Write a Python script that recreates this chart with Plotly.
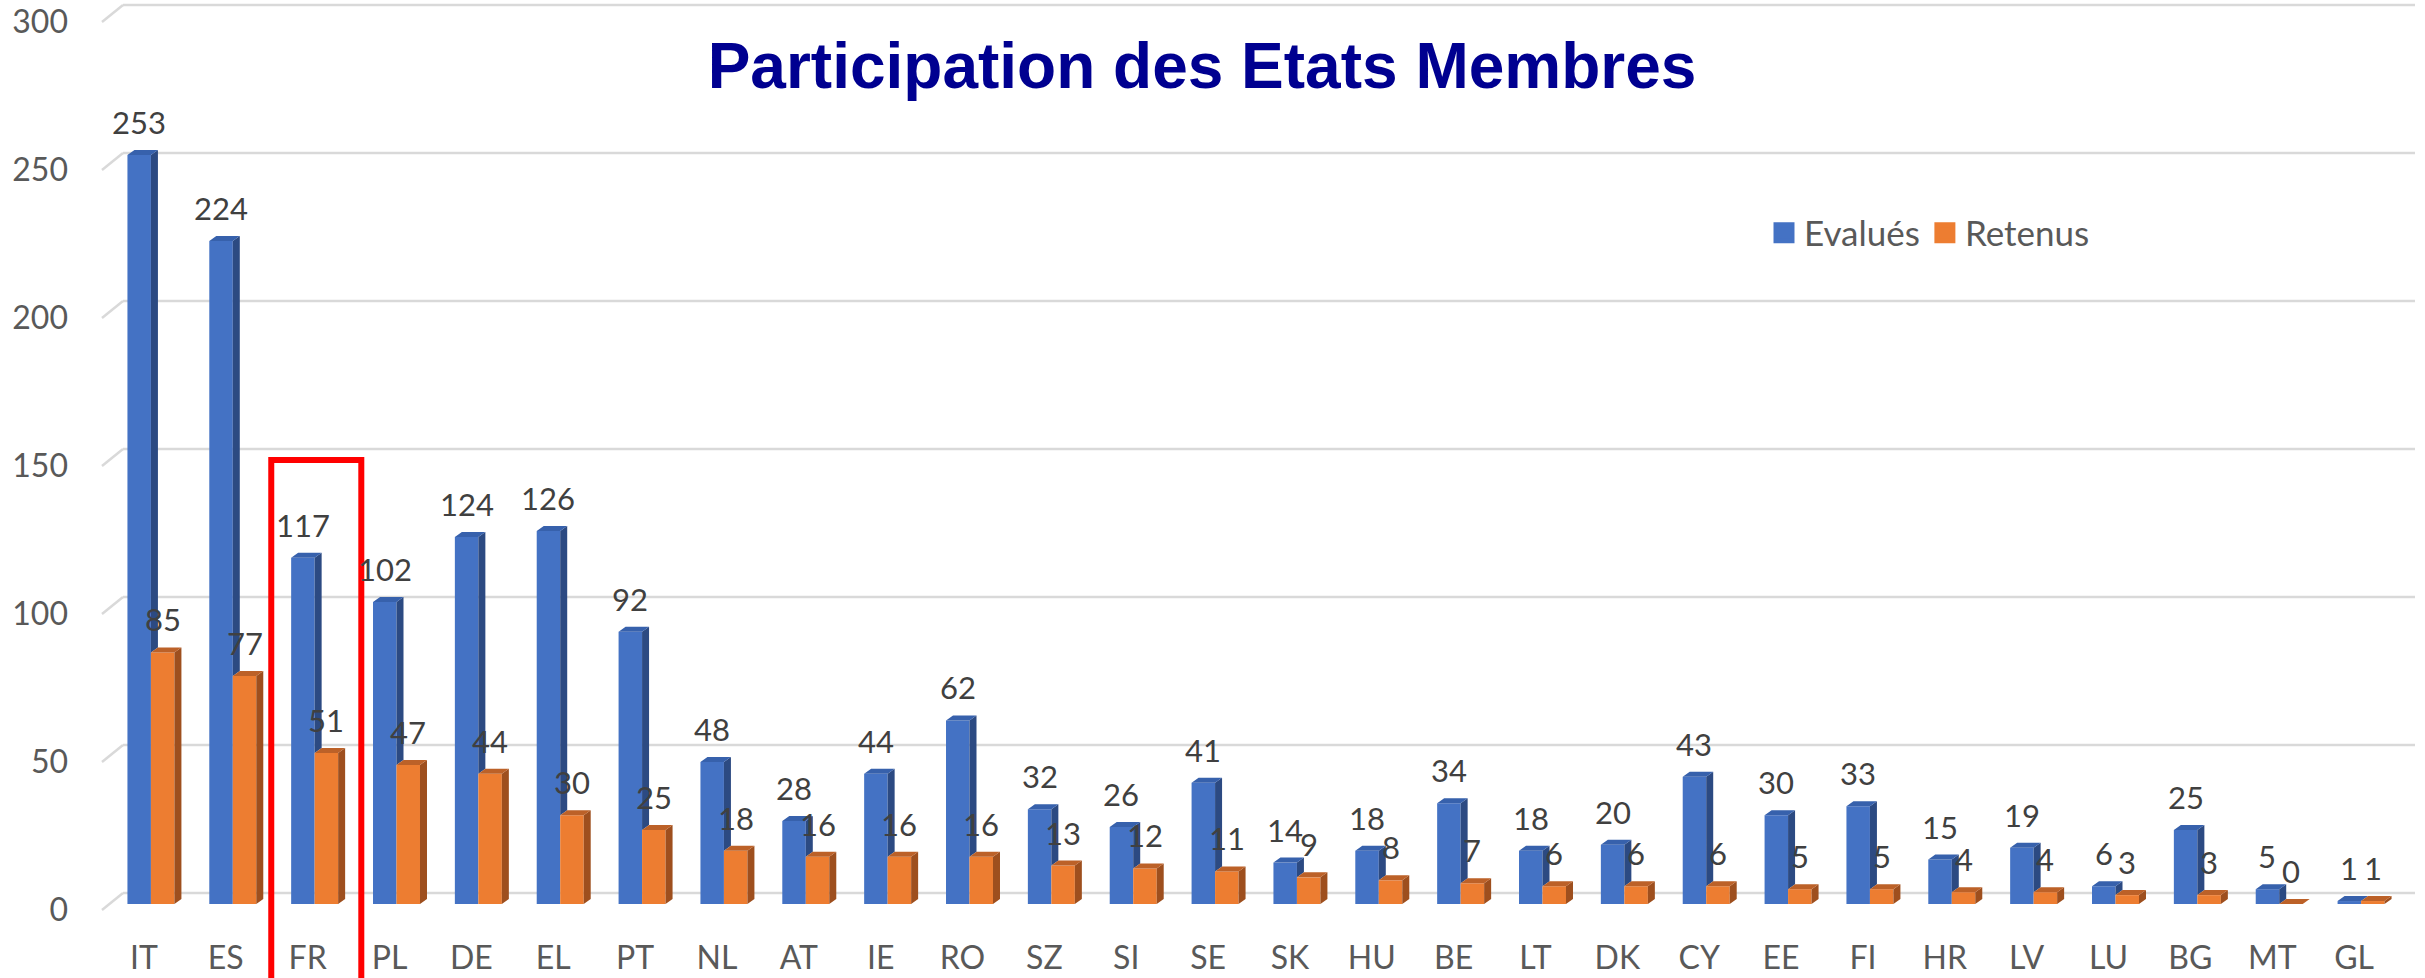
import plotly.graph_objects as go

# ---------------- data ----------------
categories = ["IT", "ES", "FR", "PL", "DE", "EL", "PT", "NL", "AT", "IE", "RO", "SZ", "SI", "SE",
              "SK", "HU", "BE", "LT", "DK", "CY", "EE", "FI", "HR", "LV", "LU", "BG", "MT", "GL"]
evalues = [253, 224, 117, 102, 124, 126, 92, 48, 28, 44, 62, 32, 26, 41,
           14, 18, 34, 18, 20, 43, 30, 33, 15, 19, 6, 25, 5, 1]
retenus = [85, 77, 51, 47, 44, 30, 25, 18, 16, 16, 16, 13, 12, 11,
           9, 8, 7, 6, 6, 6, 5, 5, 4, 4, 3, 3, 0, 1]
y_ticks = [0, 50, 100, 150, 200, 250, 300]
series_names = ["Evalués", "Retenus"]
highlight = "FR"
title_text = "Participation des Etats Membres"

# ---------------- styling / geometry ----------------
W, H = 2425, 978
ML, MR, MT, MB = 110, 23, 0, 53
PLOT_W = W - ML - MR
PLOT_H = H - MT - MB
N = len(categories)
CAT_PX = PLOT_W / N
ZERO_PX = 904 - MT          # pixel (from plot top) of value 0 on the bars' front plane
PX_PER_UNIT = 2.96
Y_RANGE = [-(PLOT_H - ZERO_PX) / PX_PER_UNIT, ZERO_PX / PX_PER_UNIT]

BAR_W = 0.287
DX = 7 / CAT_PX             # depth offset (category units)
DY = 5 / PX_PER_UNIT        # depth offset (value units)

BLUE, BLUE_SIDE, BLUE_TOP = "#4472C4", "#2C4A82", "#3761AC"
ORANGE, ORANGE_SIDE, ORANGE_TOP = "#ED7D31", "#9E4F1E", "#BC6128"
GRID = "#D9D9D9"
TICK_COL = "#595959"
LABEL_COL = "#404040"
FONT = "Lato"
FS = 32
FS_LAB = 31

xs = list(range(N))

fig = go.Figure()

# front faces (real bars)
fig.add_trace(go.Bar(x=xs, y=evalues, width=BAR_W, offset=-BAR_W, marker=dict(color=BLUE, line=dict(width=0)),
                     name=series_names[0], showlegend=False, hoverinfo="skip"))
fig.add_trace(go.Bar(x=xs, y=retenus, width=BAR_W, offset=0, marker=dict(color=ORANGE, line=dict(width=0)),
                     name=series_names[1], showlegend=False, hoverinfo="skip"))


def polys(quads):
    px, py = [], []
    for q in quads:
        for (a, b) in q:
            px.append(a)
            py.append(b)
        px.append(q[0][0]); py.append(q[0][1])
        px.append(None); py.append(None)
    return px, py


blue_side, blue_top, or_side, or_top = [], [], [], []
for i, (v, o) in enumerate(zip(evalues, retenus)):
    xr = i
    xl = i - BAR_W
    if v > o:
        blue_side.append([(xr, o), (xr, v), (xr + DX, v + DY), (xr + DX, o + DY)])
    blue_top.append([(xl, v), (xr, v), (xr + DX, v + DY), (xl + DX, v + DY)])
    oxl, oxr = i, i + BAR_W
    or_side.append([(oxr, 0), (oxr, o), (oxr + DX, o + DY), (oxr + DX, DY)])
    or_top.append([(oxl, o), (oxr, o), (oxr + DX, o + DY), (oxl + DX, o + DY)])

for quads, col in [(blue_side, BLUE_SIDE), (blue_top, BLUE_TOP), (or_side, ORANGE_SIDE), (or_top, ORANGE_TOP)]:
    px, py = polys(quads)
    fig.add_trace(go.Scatter(x=px, y=py, mode="lines", fill="toself", fillcolor=col,
                             line=dict(width=0, color=col), showlegend=False, hoverinfo="skip"))

# legend entries
for name, col in zip(series_names, [BLUE, ORANGE]):
    fig.add_trace(go.Scatter(x=[None], y=[None], mode="markers", name=name,
                             marker=dict(symbol="square", size=16, color=col, line=dict(width=5, color=col))))

# data labels
annotations = []
for i, (v, o) in enumerate(zip(evalues, retenus)):
    annotations.append(dict(x=i - BAR_W / 2, y=v, text=str(v), showarrow=False, xref="x", yref="y",
                            yanchor="bottom", yshift=12, font=dict(family=FONT, size=FS_LAB, color=LABEL_COL)))
    annotations.append(dict(x=i + BAR_W / 2, y=o, text=str(o), showarrow=False, xref="x", yref="y",
                            yanchor="bottom", yshift=12, font=dict(family=FONT, size=FS_LAB, color=LABEL_COL)))


def px_to_paper_x(pxv):
    return (pxv - ML) / PLOT_W


# grid lines on back wall with perspective stubs
shapes = []
BACK_UP = 11 / PX_PER_UNIT
FRONT_DOWN = 6 / PX_PER_UNIT
for t in y_ticks:
    shapes.append(dict(type="line", xref="paper", yref="y", x0=px_to_paper_x(123), x1=px_to_paper_x(2415),
                       y0=t + BACK_UP, y1=t + BACK_UP, line=dict(color=GRID, width=2.5), layer="below"))
    shapes.append(dict(type="line", xref="paper", yref="y", x0=px_to_paper_x(102), x1=px_to_paper_x(123),
                       y0=t - FRONT_DOWN, y1=t + BACK_UP, line=dict(color=GRID, width=2.5), layer="below"))

# highlight rectangle around FR
hi = categories.index(highlight)
hx0 = (hi - 0.53 + 0.5) / N
hx1 = (hi + 0.57 + 0.5) / N
hy_top = 1 - (Y_RANGE[1] - 150) / (Y_RANGE[1] - Y_RANGE[0])
shapes.append(dict(type="rect", xref="paper", yref="paper", x0=hx0, x1=hx1, y0=-0.2, y1=hy_top,
                   line=dict(color="#FF0000", width=6), fillcolor="rgba(0,0,0,0)", layer="above"))

fig.update_layout(
    width=W, height=H,
    margin=dict(l=ML, r=MR, t=MT, b=MB, pad=0, autoexpand=False),
    paper_bgcolor="white", plot_bgcolor="white",
    barmode="overlay",
    title=dict(text=title_text, x=1202 / W, xanchor="center", xref="container",
               y=1 - 66 / H, yanchor="middle", yref="container", automargin=False,
               font=dict(family="Liberation Sans", size=64, color="#000090", weight="bold")),
    xaxis=dict(range=[-0.5, N - 0.5], tickmode="array", tickvals=xs, ticktext=categories,
               showgrid=False, zeroline=False, showline=False, ticks="", automargin=False,
               tickfont=dict(family=FONT, size=FS, color=TICK_COL), ticklabeloverflow="allow",
               ticklabelshift=-7, ticklabelstandoff=11, fixedrange=True),
    yaxis=dict(range=Y_RANGE, tickmode="array", tickvals=y_ticks, showgrid=False, zeroline=False,
               showline=False, ticks="", automargin=False, tickfont=dict(family=FONT, size=FS, color=TICK_COL),
               ticklabeloverflow="allow",
               ticklabelshift=6, ticklabelstandoff=41, fixedrange=True),
    legend=dict(orientation="h", x=px_to_paper_x(1764), xanchor="left", y=(PLOT_H - 233) / PLOT_H,
                yanchor="middle", font=dict(family=FONT, size=35, color=TICK_COL),
                bgcolor="rgba(0,0,0,0)", itemclick=False),
    shapes=shapes,
    annotations=annotations,
    showlegend=True,
)

fig.write_html("out.html")
